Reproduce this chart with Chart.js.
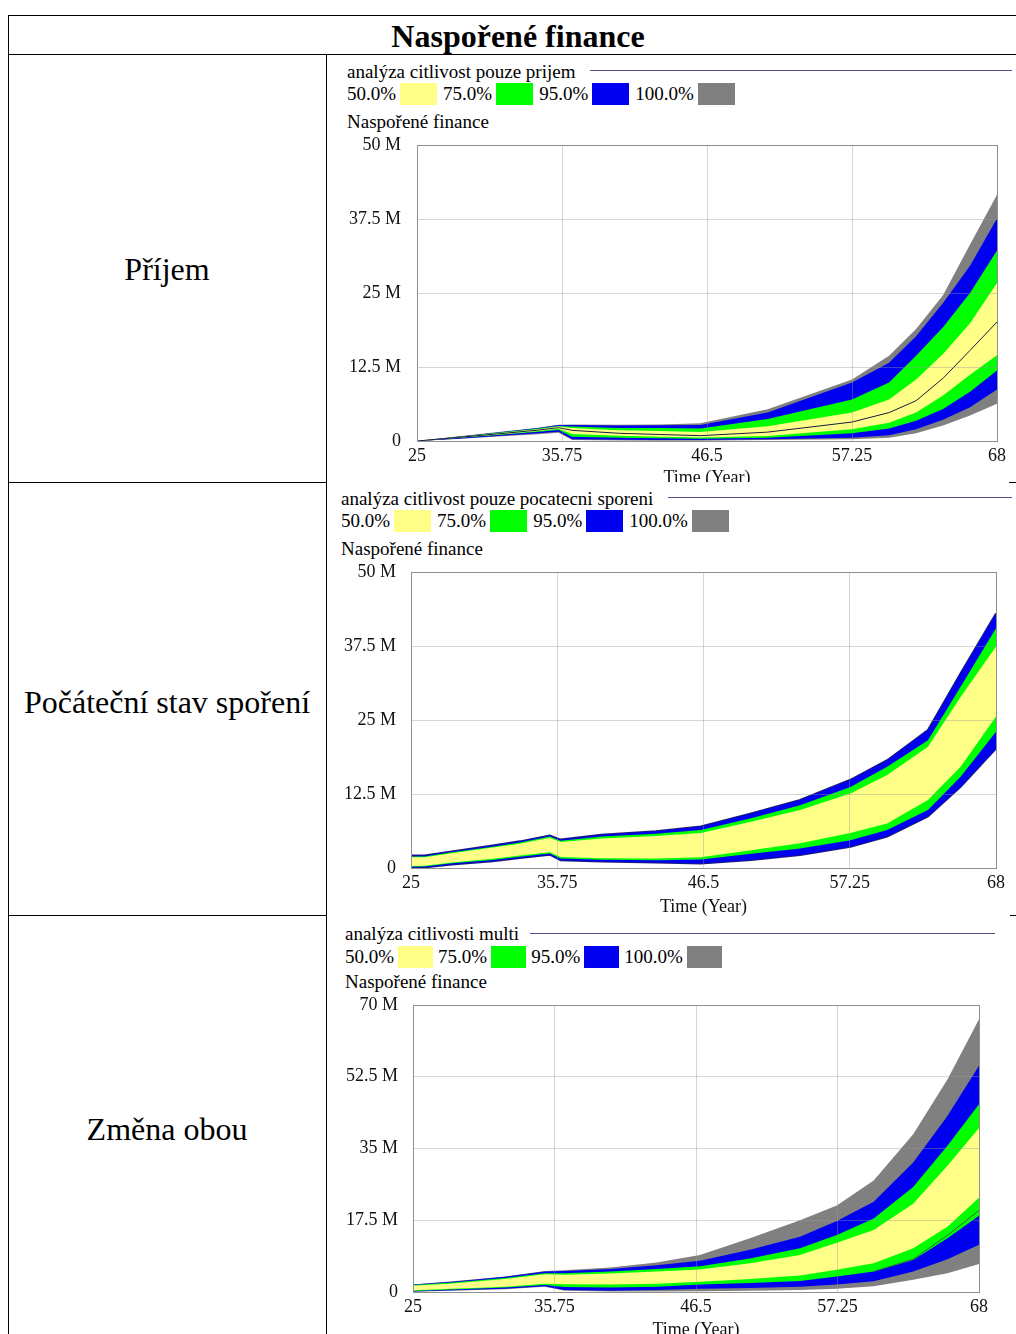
<!DOCTYPE html>
<html>
<head>
<meta charset="utf-8">
<script src="https://cdn.jsdelivr.net/npm/chart.js@4.4.1/dist/chart.umd.min.js"></script>
<style>
  body { margin: 0; width: 1016px; height: 1334px; position: relative; overflow: hidden; background: #fff;
         font-family: "Liberation Serif", "Times New Roman", serif; color: #000; }
  .hl, .vl { position: absolute; background: #000; }
  .hl { height: 1px; }
  .vl { width: 1px; }
  .cell { position: absolute; text-align: center; font-size: 32px; line-height: 36px; white-space: nowrap; }
  .txt { position: absolute; font-size: 19px; line-height: 20px; white-space: nowrap; }
  .rule { position: absolute; height: 1px; background: #50508a; }
  .legend { position: absolute; display: flex; align-items: center; font-size: 19px; line-height: 22px; white-space: nowrap; }
  .legend i { display: inline-block; width: 37px; height: 22px; margin: 0 6px 0 4px; }
  #leg3 i { width: 35px; margin: 0 5px 0 4px; }
  .clip { position: absolute; overflow: hidden; }
</style>
</head>
<body>
<!-- table grid -->
<div class="hl" style="left:8px; top:15px; width:1008px;"></div>
<div class="hl" style="left:8px; top:54px; width:1008px;"></div>
<div class="hl" style="left:8px; top:482px; width:319px;"></div>
<div class="hl" style="left:1009px; top:482px; width:7px;"></div>
<div class="hl" style="left:8px; top:915px; width:319px;"></div>
<div class="hl" style="left:1010px; top:915px; width:6px;"></div>
<div class="vl" style="left:8px; top:15px; height:1319px;"></div>
<div class="vl" style="left:326px; top:54px; height:1280px;"></div>

<div class="cell" style="left:8px; width:1020px; top:18px; font-weight:bold;">Naspořené finance</div>
<div class="cell" style="left:8px; width:318px; top:251px;">Příjem</div>
<div class="cell" style="left:8px; width:318px; top:684px;">Počáteční stav spoření</div>
<div class="cell" style="left:8px; width:318px; top:1111px;">Změna obou</div>

<!-- chart 1 -->
<div class="txt" style="left:347px; top:62px;">analýza citlivost pouze prijem</div>
<div class="rule" style="left:590px; top:70px; width:422px;"></div>
<div class="legend" id="leg1" style="left:347px; top:83px;"></div>
<div class="txt" style="left:347px; top:112px;">Naspořené finance</div>
<div class="clip" style="left:340px; top:132px; width:672px; height:350px;">
  <canvas id="c1" width="672" height="357"></canvas>
</div>

<!-- chart 2 -->
<div class="txt" style="left:341px; top:489px;">analýza citlivost pouze pocatecni sporeni</div>
<div class="rule" style="left:668px; top:497px; width:344px;"></div>
<div class="legend" id="leg2" style="left:341px; top:510px;"></div>
<div class="txt" style="left:341px; top:539px;">Naspořené finance</div>
<div class="clip" style="left:334px; top:559px; width:678px; height:357px;">
  <canvas id="c2" width="678" height="359"></canvas>
</div>

<!-- chart 3 -->
<div class="txt" style="left:345px; top:924px;">analýza citlivosti multi</div>
<div class="rule" style="left:530px; top:933px; width:465px;"></div>
<div class="legend" id="leg3" style="left:345px; top:946px;"></div>
<div class="txt" style="left:345px; top:972px;">Naspořené finance</div>
<div class="clip" style="left:336px; top:992px; width:658px; height:346px;">
  <canvas id="c3" width="658" height="349"></canvas>
</div>

<script>
// legend
const legendLabels = ['50.0%', '75.0%', '95.0%', '100.0%'];
const bandColors = ['#ffff88', '#00ff00', '#0000f0', '#808080'];
const xTicks = [25, 35.75, 46.5, 57.25, 68];

// chart 1: analýza citlivost pouze prijem (values in M)
const years1 = [25, 28, 31, 34, 35.5, 36.5, 40, 43, 46, 51, 57.25, 60, 62, 64, 66, 68];
const grayHi1 = [0, 0.75, 1.5, 2.25, 2.75, 2.8, 2.75, 2.8, 3.0, 5.35, 10.4, 14.4, 18.9, 24.6, 33.2, 41.6];
const blueHi1 = [0, 0.72, 1.45, 2.2, 2.7, 2.7, 2.6, 2.65, 2.7, 4.8, 9.9, 13.2, 17.7, 23.3, 29.6, 37.6];
const greenHi1 = [0, 0.68, 1.38, 2.1, 2.55, 2.45, 2.2, 2.2, 2.1, 3.7, 7.0, 9.9, 14.4, 19.2, 25.0, 32.2];
const yellowHi1 = [0, 0.64, 1.3, 2.0, 2.45, 2.2, 1.8, 1.7, 1.5, 2.5, 4.8, 7.0, 10.4, 14.7, 19.9, 26.7];
const base1 = [0, 0.6, 1.2, 1.85, 2.25, 1.8, 1.3, 1.1, 0.9, 1.5, 3.2, 4.8, 6.8, 10.6, 15.3, 20.1];
const yellowLo1 = [0, 0.55, 1.1, 1.7, 2.05, 1.2, 0.9, 0.7, 0.6, 0.85, 2.0, 3.1, 4.8, 7.7, 11.2, 14.5];
const greenLo1 = [0, 0.5, 1.0, 1.55, 1.85, 0.7, 0.55, 0.45, 0.4, 0.55, 1.3, 2.1, 3.4, 5.4, 8.3, 11.9];
const blueLo1 = [0, 0.4, 0.85, 1.3, 1.55, 0.3, 0.2, 0.18, 0.17, 0.28, 0.56, 0.96, 2.0, 3.6, 5.7, 8.7];
const grayLo1 = [0, 0.35, 0.75, 1.15, 1.4, 0.15, 0.08, 0.06, 0.06, 0.17, 0.28, 0.56, 1.3, 2.6, 4.3, 6.3];

// chart 2: analýza citlivost pouze pocatecni sporeni
const years2 = [25, 26, 28, 31, 33, 35.2, 36, 39, 43, 46.3, 50, 53.6, 57.3, 60, 63, 65.4, 68];
const blueHi2 = [2.1, 2.1, 2.8, 3.8, 4.5, 5.5, 4.8, 5.6, 6.2, 7.0, 9.2, 11.5, 14.9, 18.2, 23.3, 32.9, 43.0];
const greenHi2 = [1.95, 1.95, 2.65, 3.6, 4.3, 5.3, 4.6, 5.3, 5.8, 6.4, 8.4, 10.6, 13.7, 17.1, 21.6, 30.6, 40.5];
const yellowHi2 = [1.8, 1.8, 2.5, 3.45, 4.1, 5.1, 4.4, 5.0, 5.4, 5.9, 7.8, 9.8, 12.6, 15.7, 20.5, 28.9, 37.4];
const yellowLo2 = [0.35, 0.4, 0.95, 1.55, 2.1, 2.65, 1.85, 1.65, 1.6, 1.8, 3.0, 4.2, 5.9, 7.5, 11.5, 17.1, 25.6];
const greenLo2 = [0.2, 0.25, 0.8, 1.35, 1.9, 2.45, 1.6, 1.4, 1.3, 1.45, 2.4, 3.3, 4.7, 6.4, 9.8, 15.4, 23.0];
const blueLo2 = [0.05, 0.1, 0.6, 1.15, 1.7, 2.25, 1.3, 1.1, 0.95, 0.75, 1.35, 2.2, 3.6, 5.3, 8.7, 13.7, 20.2];

// chart 3: analýza citlivosti multi
const years3 = [25, 28, 32, 35, 36.5, 40, 43.5, 46.8, 50.6, 54.4, 57.2, 60, 63, 65.6, 68];
const grayHi3 = [1.8, 2.6, 3.8, 5.1, 5.3, 6.0, 7.2, 9.0, 13.1, 17.5, 21.1, 27.2, 38.5, 51.8, 66.5];
const blueHi3 = [1.8, 2.5, 3.7, 5.0, 5.1, 5.6, 6.5, 7.6, 10.3, 13.5, 17.3, 22.0, 31.6, 42.9, 55.2];
const greenHi3 = [1.7, 2.3, 3.4, 4.6, 4.6, 5.0, 5.6, 6.3, 8.2, 10.7, 13.9, 17.9, 25.6, 35.7, 45.8];
const yellowHi3 = [1.55, 2.1, 3.2, 4.3, 4.2, 4.5, 5.0, 5.5, 7.0, 9.0, 12.0, 15.1, 21.5, 30.8, 40.0];
const yellowLo3 = [0.4, 0.8, 1.3, 2.0, 1.9, 1.8, 2.0, 2.5, 3.2, 4.0, 5.4, 7.0, 10.7, 15.9, 23.0];
const greenLo3 = [0.25, 0.6, 1.1, 1.7, 1.2, 1.1, 1.3, 1.8, 2.2, 2.7, 3.8, 5.0, 7.8, 13.1, 18.6];
const blueLo3 = [0.1, 0.4, 0.8, 1.4, 0.5, 0.3, 0.5, 0.8, 1.0, 1.3, 1.8, 2.6, 5.0, 8.0, 11.5];
const grayLo3 = [0.05, 0.3, 0.7, 1.3, 0.3, 0.1, 0.1, 0.2, 0.3, 0.5, 0.8, 1.4, 3.0, 4.6, 6.8];
const baseYears3 = [60, 63, 65.6, 68];
const base3 = [5.0, 8.0, 13.8, 19.9];

function buildLegend(id) {
    const el = document.getElementById(id);
    legendLabels.forEach((label, i) => {
        const span = document.createElement('span');
        span.textContent = label;
        const box = document.createElement('i');
        box.style.background = bandColors[i];
        el.appendChild(span);
        el.appendChild(box);
    });
}

function pts(years, arr) {
    return years.map((t, i) => ({ x: t, y: arr[i] }));
}

function band(years, hi, lo, color, order, edge) {
    const common = {
        pointRadius: 0, tension: 0, order: order,
        borderWidth: edge ? 2 : 0, borderColor: edge || color, backgroundColor: color
    };
    return [
        Object.assign({ data: pts(years, hi), fill: false }, common),
        Object.assign({ data: pts(years, lo), fill: '-1' }, common)
    ];
}

const plotFrame = {
    id: 'plotFrame',
    afterDatasetsDraw(chart) {
        const a = chart.chartArea;
        const ctx = chart.ctx;
        ctx.save();
        ctx.strokeStyle = '#8c8c8c';
        ctx.lineWidth = 1;
        ctx.strokeRect(Math.round(a.left) + 0.5, Math.round(a.top) + 0.5, Math.round(a.right - a.left), Math.round(a.bottom - a.top));
        ctx.restore();
    }
};

function makeChart(id, datasets, yMax, yStep, lay) {
    new Chart(document.getElementById(id), {
        type: 'line',
        data: { datasets: datasets },
        options: {
            responsive: false,
            animation: false,
            layout: { padding: { top: 13, right: lay.right, left: 0, bottom: 0 } },
            plugins: { legend: { display: false }, tooltip: { enabled: false } },
            scales: {
                x: {
                    type: 'linear', min: 25, max: 68,
                    afterBuildTicks: axis => { axis.ticks = xTicks.map(v => ({ value: v })); },
                    afterFit: scale => {
                        scale.height = lay.xh;
                        scale.paddingLeft = 0;
                        scale.paddingRight = 0;
                    },
                    grid: { color: 'rgba(150,150,150,0.4)', drawTicks: false, z: 1 },
                    border: { display: false },
                    ticks: {
                        padding: 4, color: '#111', maxRotation: 0, autoSkip: false,
                        font: { family: 'Liberation Serif', size: 18 },
                        callback: v => String(v)
                    },
                    title: {
                        display: true, text: 'Time (Year)', color: '#111',
                        font: { family: 'Liberation Serif', size: 18 },
                        padding: { top: 0, bottom: 0 }
                    }
                },
                y: {
                    min: 0, max: yMax,
                    afterFit: scale => {
                        scale.width = lay.yw;
                        scale.paddingTop = 0;
                        scale.paddingBottom = 0;
                    },
                    grid: { color: 'rgba(150,150,150,0.4)', drawTicks: false, z: 1 },
                    border: { display: false },
                    ticks: {
                        stepSize: yStep, padding: lay.yp, color: '#111',
                        font: { family: 'Liberation Serif', size: 18 },
                        callback: v => v === 0 ? '0' : v + ' M'
                    }
                }
            }
        },
        plugins: [plotFrame]
    });
}

buildLegend('leg1');
buildLegend('leg2');
buildLegend('leg3');

makeChart('c1', [
    { data: pts(years1, base1), borderColor: '#1a1a44', borderWidth: 1, pointRadius: 0, fill: false, order: 0 },
    ...band(years1, yellowHi1, yellowLo1, bandColors[0], 1),
    ...band(years1, greenHi1, greenLo1, bandColors[1], 2),
    ...band(years1, blueHi1, blueLo1, bandColors[2], 3),
    ...band(years1, grayHi1, grayLo1, bandColors[3], 4)
], 50, 12.5, { right: 15, xh: 48, yw: 77, yp: 16 });

makeChart('c2', [
    ...band(years2, yellowHi2, yellowLo2, bandColors[0], 1),
    ...band(years2, greenHi2, greenLo2, bandColors[1], 2),
    ...band(years2, blueHi2, blueLo2, bandColors[2], 3),
    ...band(years2, blueHi2, blueLo2, bandColors[3], 4, '#1c1c78')
], 50, 12.5, { right: 16, xh: 50, yw: 77, yp: 15 });

makeChart('c3', [
    { data: pts(baseYears3, base3), borderColor: '#2f6a3a', borderWidth: 1, pointRadius: 0, fill: false, order: 0 },
    ...band(years3, yellowHi3, yellowLo3, bandColors[0], 1),
    ...band(years3, greenHi3, greenLo3, bandColors[1], 2),
    ...band(years3, blueHi3, blueLo3, bandColors[2], 3),
    ...band(years3, grayHi3, grayLo3, bandColors[3], 4)
], 70, 17.5, { right: 15, xh: 49, yw: 77, yp: 15 });
</script>
</body>
</html>
